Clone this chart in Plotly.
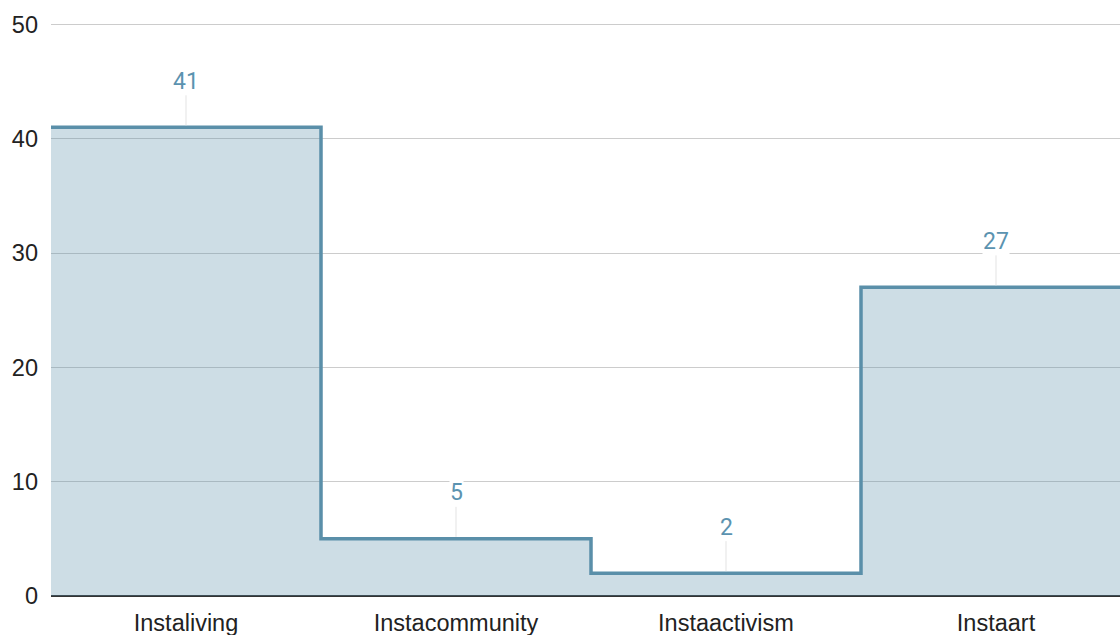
import plotly.graph_objects as go

# Post counts per hashtag category
categories = ["Instaliving", "Instacommunity", "Instaactivism", "Instaart"]
values = [41, 5, 2, 27]
y_ticks = [0, 10, 20, 30, 40, 50]

LINE = "#5a8fa9"
LABEL = "#5b93b0"

# Step outline: each category holds its value across its full width
n = len(categories)
edges = [i - 0.5 for i in range(n + 1)]
step_y = values + [values[-1]]

fig = go.Figure()
fig.add_trace(go.Scatter(
    x=edges,
    y=step_y,
    mode="lines",
    line=dict(shape="hv", color=LINE, width=3.5),
    fill="tozeroy",
    fillcolor="rgba(91,143,169,0.30)",
    hoverinfo="skip",
    showlegend=False,
))

# Value labels with thin leader lines
for i, v in enumerate(values):
    fig.add_annotation(
        x=i, y=v, xref="x", yref="y",
        text=str(v),
        showarrow=True, arrowhead=0, arrowwidth=1, arrowcolor="#e3e3e3",
        ax=0, ay=-46, standoff=2,
        bgcolor="white", borderpad=0,
        font=dict(family="Roboto", size=23, color=LABEL),
    )

fig.update_layout(
    width=1120, height=635,
    margin=dict(l=51, r=0, t=21, b=39, autoexpand=False),
    paper_bgcolor="white", plot_bgcolor="white",
    font=dict(family="Liberation Sans", size=23.5, color="#222222"),
    xaxis=dict(
        range=[-0.5, -0.5 + 1069 / 270],
        tickmode="array", tickvals=list(range(n)), ticktext=categories,
        showgrid=False, zeroline=False, showline=False,
        ticks="", ticklabelstandoff=10, automargin=False,
        tickfont=dict(size=23.5, color="#222222"),
    ),
    yaxis=dict(
        range=[0, 50.3],
        tickmode="array", tickvals=y_ticks,
        showgrid=True, gridcolor="#cccccc", gridwidth=1,
        zeroline=True, zerolinecolor="#333333", zerolinewidth=2,
        showline=False, ticks="", ticklabelstandoff=12, automargin=False,
        tickfont=dict(size=23.5, color="#222222"),
    ),
)

fig.write_html("out.html")
